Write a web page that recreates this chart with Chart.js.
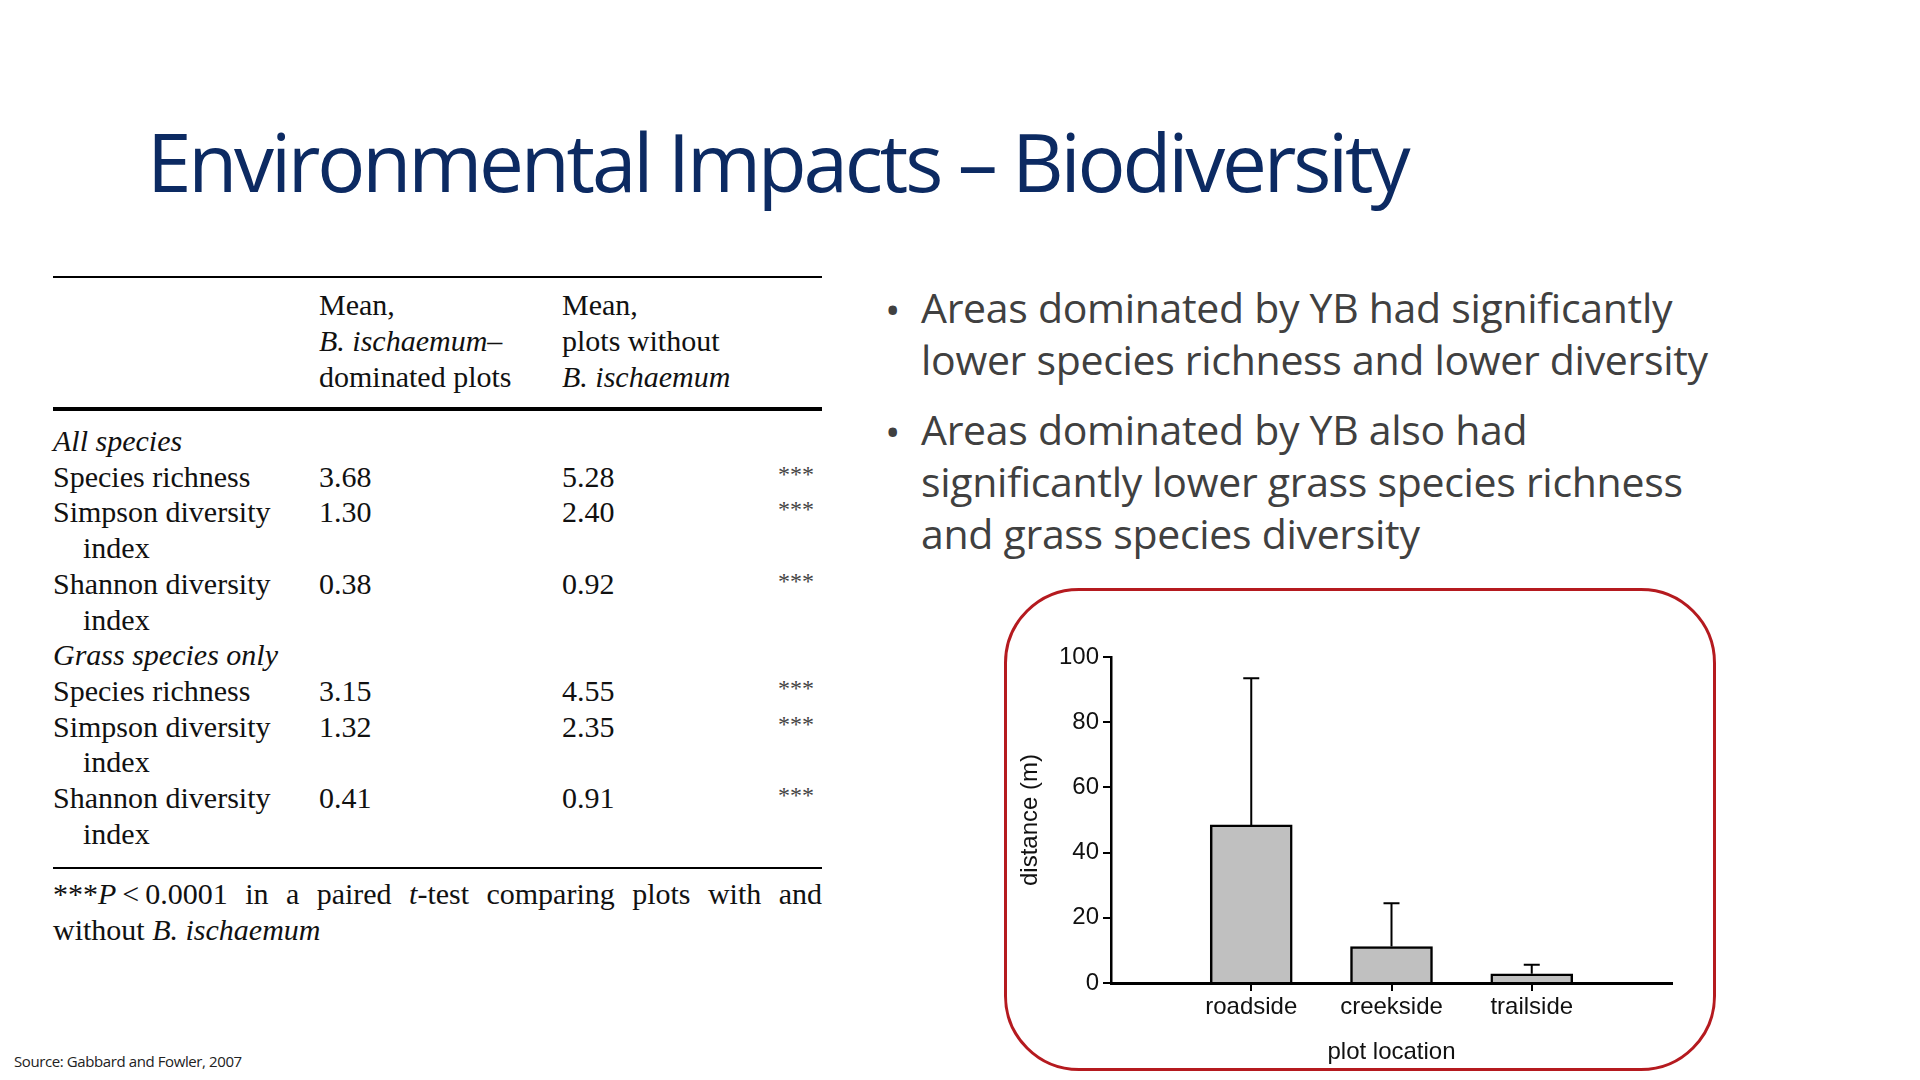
<!DOCTYPE html>
<html>
<head>
<meta charset="utf-8">
<script src="https://cdn.jsdelivr.net/npm/chart.js@4/dist/chart.umd.min.js"></script>
<style>
  body { margin: 0; width: 1920px; height: 1080px; background: #fff; position: relative; overflow: hidden; font-family: "Open Sans", sans-serif; }
  .abs { position: absolute; white-space: nowrap; }
  #title { left: 147px; top: 106px; font-size: 80px; font-weight: 500; color: #0c2a62; letter-spacing: -3.2px; font-family: "Open Sans"; }
  .tbl { font-family: "Liberation Serif", serif; font-size: 30px; color: #111; line-height: 36px; }
  .rule { position: absolute; left: 53px; width: 769px; background: #000; }
  .bul { left: 921px; font-size: 41px; color: #404040; line-height: 52px; letter-spacing: -0.3px; }
  .dot { left: 885px; font-size: 41px; color: #404040; }
  #box { position: absolute; left: 1004px; top: 588px; width: 706px; height: 477px; border: 3px solid #b51a1f; border-radius: 75px; }
  #wrap { position: absolute; left: 1004px; top: 588px; width: 712px; height: 483px; }
  #src { left: 14px; top: 1051px; font-size: 15px; color: #222; letter-spacing: -0.4px; }
</style>
</head>
<body>
<div id="title" class="abs">Environmental Impacts – Biodiversity</div>

<div class="rule" style="top:276px;height:2px"></div>
<div class="abs tbl" style="left:319px;top:287px">Mean,<br><i>B. ischaemum</i>–<br>dominated plots</div>
<div class="abs tbl" style="left:562px;top:287px">Mean,<br>plots without<br><i>B. ischaemum</i></div>
<div class="rule" style="top:407px;height:4px"></div>
<div id="rows"></div>
<div class="rule" style="top:867px;height:2px"></div>
<div class="abs tbl" style="left:53px;top:876px;width:769px;white-space:normal;text-align:justify;text-align-last:left">***<i>P</i>&thinsp;&lt;&thinsp;0.0001 in a paired <i>t</i>-test comparing plots with and without <i>B. ischaemum</i></div>

<div class="abs dot" style="top:281px">•</div>
<div class="abs bul" style="top:281px">Areas dominated by YB had significantly<br>lower species richness and lower diversity</div>
<div class="abs dot" style="top:403px">•</div>
<div class="abs bul" style="top:403px">Areas dominated by YB also had<br>significantly lower grass species richness<br>and grass species diversity</div>

<div id="box"></div>
<div id="wrap"><canvas id="barChart"></canvas></div>

<div id="src" class="abs">Source: Gabbard and Fowler, 2007</div>

<script>
// table rows: [label, with YB, without YB, stars]
const rowLabels = ["All species", "Species richness", "Simpson diversity", "  index", "Shannon diversity", "  index",
                   "Grass species only", "Species richness", "Simpson diversity", "  index", "Shannon diversity", "  index"];
const withYB = ["", "3.68", "1.30", "", "0.38", "", "", "3.15", "1.32", "", "0.41", ""];
const withoutYB = ["", "5.28", "2.40", "", "0.92", "", "", "4.55", "2.35", "", "0.91", ""];
const stars = ["", "***", "***", "", "***", "", "", "***", "***", "", "***", ""];

// chart data
const locations = ["", "roadside", "creekside", "trailside", ""];
const distance = [null, 48.5, 11.2, 2.8, null];
const errorTop = [null, 93.5, 24.5, 5.6, null];
const yTicks = [0, 20, 40, 60, 80, 100];

const rowsDiv = document.getElementById("rows");
rowLabels.forEach((lab, i) => {
    const top = 423 + i * 35.7;
    const heading = i === 0 || i === 6;
    const indent = lab.startsWith("  ");
    rowsDiv.insertAdjacentHTML("beforeend",
        `<div class="abs tbl" style="left:${indent ? 83 : 53}px;top:${top}px">${heading ? "<i>" + lab + "</i>" : lab.trim()}</div>` +
        `<div class="abs tbl" style="left:319px;top:${top}px">${withYB[i]}</div>` +
        `<div class="abs tbl" style="left:562px;top:${top}px">${withoutYB[i]}</div>` +
        `<div class="abs tbl" style="left:778px;top:${top - 3}px;font-size:24px;color:#444">${stars[i]}</div>`);
});

const errorBars = {
    id: "errorBars",
    afterDatasetsDraw(chart) {
        const ctx = chart.ctx;
        const y = chart.scales.y;
        const meta = chart.getDatasetMeta(0);
        ctx.save();
        ctx.strokeStyle = "#000";
        ctx.lineWidth = 2;
        meta.data.forEach((bar, i) => {
            if (errorTop[i] == null) return;
            const x = bar.x;
            const yTop = y.getPixelForValue(errorTop[i]);
            const yBase = y.getPixelForValue(distance[i]);
            ctx.beginPath();
            ctx.moveTo(x, yBase);
            ctx.lineTo(x, yTop);
            ctx.moveTo(x - 8, yTop);
            ctx.lineTo(x + 8, yTop);
            ctx.stroke();
        });
        ctx.restore();
    }
};

const tickFont = { family: "Liberation Sans, Arial", size: 24 };

new Chart(document.getElementById("barChart"), {
    type: "bar",
    data: {
        labels: locations,
        datasets: [{
            data: distance,
            backgroundColor: "#c0c0c0",
            borderColor: "#000",
            borderWidth: 2.5,
            barThickness: 82
        }]
    },
    plugins: [errorBars],
    options: {
        responsive: true,
        maintainAspectRatio: false,
        animation: false,
        layout: { padding: { top: 69, right: 44, left: 12, bottom: 0 } },
        plugins: { legend: { display: false }, tooltip: { enabled: false } },
        scales: {
            x: {
                offset: false,
                grid: {
                    offset: false,
                    drawOnChartArea: false,
                    tickLength: 8,
                    lineWidth: 2,
                    color: (c) => (c.index === 0 || c.index === locations.length - 1) ? "rgba(0,0,0,0)" : "#000"
                },
                border: { color: "#000", width: 3 },
                ticks: { color: "#111", font: tickFont, maxRotation: 0, autoSkip: false, padding: 2 },
                title: { display: true, text: "plot location", color: "#111", font: tickFont, padding: { top: 0 } },
                afterFit(s) { s.height = 88; }
            },
            y: {
                min: 0,
                max: 100,
                afterBuildTicks(s) { s.ticks = yTicks.map(v => ({ value: v })); },
                grid: { drawOnChartArea: false, tickLength: 8, lineWidth: 2, color: "#000" },
                border: { color: "#000", width: 2.5 },
                ticks: { color: "#111", font: tickFont, padding: 4 },
                title: { display: true, text: "distance (m)", color: "#111", font: tickFont, padding: 0 },
                afterFit(s) { s.width = 95; }
            }
        }
    }
});
</script>
</body>
</html>
